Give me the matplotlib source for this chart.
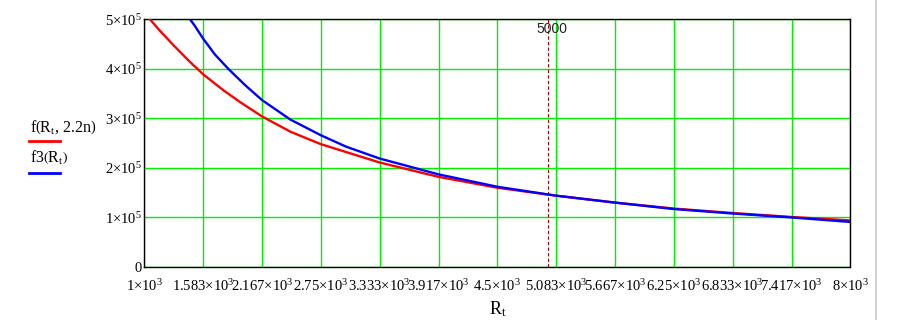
import numpy as np
import matplotlib
matplotlib.use("Agg")
import matplotlib.pyplot as plt
from matplotlib.lines import Line2D

plt.rcParams['font.family'] = ['Liberation Serif', 'DejaVu Serif']
plt.rcParams['mathtext.fontset'] = 'custom'
plt.rcParams['mathtext.rm'] = 'Liberation Serif'
plt.rcParams['mathtext.it'] = 'Liberation Serif:italic'

# values (R_t in ohm, y in Hz)
r_red = [1000, 1150, 1288, 1453, 1583, 1783, 1949, 2167, 2450, 2750, 3333,
         3917, 4500, 5083, 5667, 6250, 6833, 7417, 8000]
f_red = [5.13e5, 4.78e5, 4.48e5, 4.14e5, 3.89e5, 3.57e5, 3.33e5, 3.04e5,
         2.73e5, 2.48e5, 2.11e5, 1.82e5, 1.60e5, 1.44e5, 1.30e5, 1.18e5,
         1.09e5, 1.01e5, 0.94e5]

r_blue = [1400, 1453, 1500, 1583, 1700, 1833, 2000, 2167, 2445, 2750, 3000,
          3333, 3917, 4500, 5083, 5667, 6250, 6833, 7417, 8000]
f_blue = [5.2e5, 5.0e5, 4.87e5, 4.61e5, 4.29e5, 4.0e5, 3.67e5, 3.37e5,
          2.98e5, 2.66e5, 2.43e5, 2.19e5, 1.87e5, 1.62e5, 1.44e5, 1.30e5,
          1.17e5, 1.08e5, 1.00e5, 0.91e5]

x_ticks = [1000, 1583, 2167, 2750, 3333, 3917, 4500, 5083, 5667, 6250, 6833, 7417, 8000]
x_labels = ['1', '1.583', '2.167', '2.75', '3.333', '3.917', '4.5', '5.083',
            '5.667', '6.25', '6.833', '7.417', '8']
y_ticks = [0, 1e5, 2e5, 3e5, 4e5, 5e5]
y_labels = ['0', '1', '2', '3', '4', '5']
marker_x = 5000

fig = plt.figure(figsize=(9.24, 3.2), dpi=100)
ax = fig.add_axes([0.1562, 0.1656, 0.7641, 0.774])

ax.set_xlim(1000, 8000)
ax.set_ylim(0, 5e5)

# grid: line at every tick
ax.set_xticks(x_ticks)
ax.set_yticks(y_ticks)
ax.grid(True, color='#00ee00', lw=1.0)
ax.set_axisbelow(True)

ax.plot(r_red, f_red, color='#ff0000', lw=1.7, zorder=3)
ax.plot(r_blue, f_blue, color='#0000ff', lw=1.7, zorder=4)

ax.axvline(marker_x, color='#b00000', lw=0.8, ls=(0, (3, 2)), zorder=2)
ax.text(marker_x + 40, 4.8e5, '5000', ha='center', va='center', fontsize=10,
        family='Liberation Sans', color='#222222')

ax.set_xticklabels([r'$%s{\times}10^{3}$' % s for s in x_labels], fontsize=10.5)
ylab = [r'$%s{\times}10^{5}$' % s if s != '0' else '0' for s in y_labels]
ax.set_yticklabels(ylab, fontsize=10.5)
ax.tick_params(axis='y', length=0, pad=2)
ax.tick_params(axis='x', length=0, pad=8)

for sp in ax.spines.values():
    sp.set_color('black')
    sp.set_linewidth(1.0)

ax.set_xlabel(r'$\mathrm{R}_{\mathrm{t}}$', fontsize=13, labelpad=4)

# legend drawn the way Mathcad does it
fig.text(30 / 924, 1 - 127 / 320, r'$\mathrm{f}\left(\mathrm{R}_{\mathrm{t}},\,\mathrm{2.2n}\right)$',
         fontsize=11.5, va='center', ha='left')
fig.add_artist(Line2D([29 / 924, 60 / 924], [1 - 141 / 320] * 2, color='#ff0000', lw=2))
fig.text(30 / 924, 1 - 158 / 320, r'$\mathrm{f3}\left(\mathrm{R}_{\mathrm{t}}\right)$',
         fontsize=11.5, va='center', ha='left')
fig.add_artist(Line2D([29 / 924, 60 / 924], [1 - 173 / 320] * 2, color='#0000ff', lw=2))

# region boundary on the right
fig.add_artist(Line2D([876 / 924] * 2, [0, 1], color='#c8c8c8', lw=1.2))

fig.savefig('out.png', dpi=100)
